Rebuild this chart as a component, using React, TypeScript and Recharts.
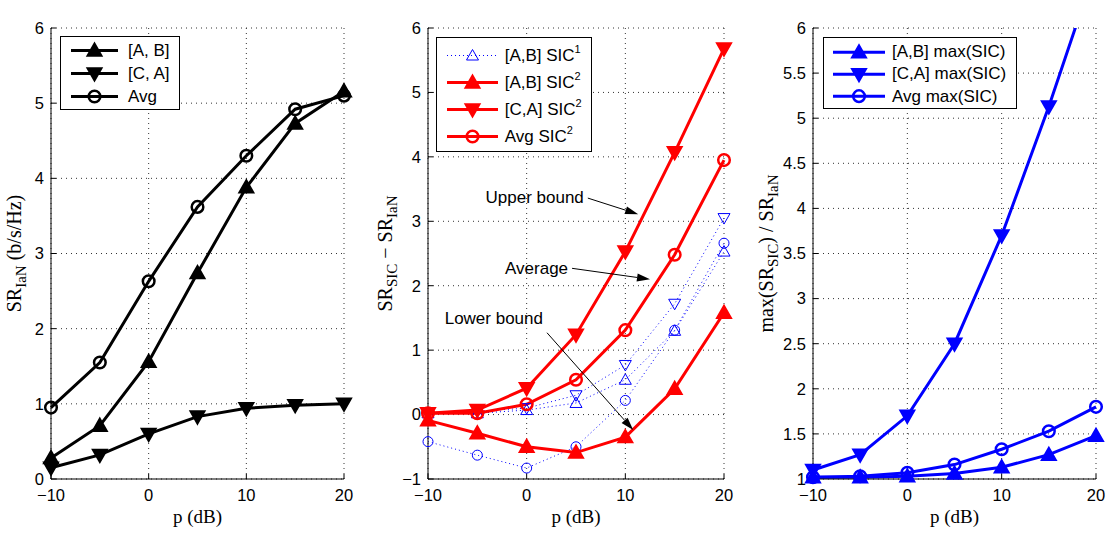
import React from 'react';
import { LineChart, Line, XAxis, YAxis, CartesianGrid, Legend, ReferenceLine, ReferenceDot } from 'recharts';

// transmit power p (dB)
const powerDb = [-10, -5, 0, 5, 10, 15, 20];
const xTicks = [-10, 0, 10, 20];

// SR IaN (b/s/Hz)
const ianAB = [0.28, 0.71, 1.56, 2.74, 3.88, 4.73, 5.16];
const ianCA = [0.15, 0.32, 0.6, 0.83, 0.94, 0.98, 1.0];
const ianAvg = [0.95, 1.55, 2.63, 3.62, 4.3, 4.92, 5.1];
const ianTicks = [0, 1, 2, 3, 4, 5, 6];

// net gains SR_SIC - SR_IaN
const sic1AB = [0.02, 0.02, 0.07, 0.18, 0.54, 1.3, 2.53];
const sic1CA = [0.03, 0.05, 0.1, 0.3, 0.77, 1.72, 3.05];
const sic1Avg = [-0.42, -0.63, -0.83, -0.5, 0.22, 1.31, 2.66];
const sic2AB = [-0.09, -0.29, -0.5, -0.59, -0.35, 0.4, 1.58];
const sic2CA = [0.02, 0.07, 0.41, 1.24, 2.53, 4.07, 5.68];
const sic2Avg = [0.02, 0.02, 0.16, 0.54, 1.31, 2.48, 3.95];
const gainTicks = [-1, 0, 1, 2, 3, 4, 5, 6];

// max(SIC) relative gains
const relAB = [1.02, 1.02, 1.03, 1.06, 1.13, 1.27, 1.48];
const relCA = [1.1, 1.27, 1.7, 2.5, 3.7, 5.13, 6.68];
const relAvg = [1.02, 1.03, 1.07, 1.16, 1.33, 1.53, 1.8];
const relTicks = [1, 1.5, 2, 2.5, 3, 3.5, 4, 4.5, 5, 5.5, 6];

const annotations = [
  { text: 'Upper bound', from: [6.2, 3.36], to: [11.3, 3.11], dy: -1 },
  { text: 'Average', from: [4.6, 2.27], to: [12.5, 2.1], dy: 0 },
  { text: 'Lower bound', from: [2.06, 1.27], to: [10.8, -0.24], dy: -15 },
];

const SANS = '"Liberation Sans", Arial, Helvetica, sans-serif';
const SERIF = '"Liberation Serif", "Times New Roman", serif';
const BLACK = '#000000';
const RED = '#ff0000';
const BLUE = '#0000ff';

type MarkerKind = 'up' | 'down' | 'circle';
interface SeriesStyle {
  key: string;
  color: string;
  width: number;
  dash?: string;
  marker: MarkerKind;
  size: number;
  filled: boolean;
  markerStroke: number;
}

function table(cols: Record<string, number[]>) {
  return powerDb.map((p, i) => {
    const row: Record<string, number> = { p };
    Object.keys(cols).forEach((k) => (row[k] = cols[k][i]));
    return row;
  });
}

const fmt = (v: number) => (v < 0 ? `\u2212${-v}` : `${v}`);
const tickStyle = { fontFamily: SANS, fontSize: 16.5, fill: '#000' };

function Marker({ cx, cy, s }: { cx?: number; cy?: number; s: SeriesStyle }) {
  if (cx == null || cy == null || isNaN(cx) || isNaN(cy)) return null;
  const h = s.size;
  if (s.marker === 'circle') {
    return <circle cx={cx} cy={cy} r={h} fill="none" stroke={s.color} strokeWidth={s.markerStroke} />;
  }
  const tip = s.marker === 'up' ? cy - h : cy + h;
  const base = s.marker === 'up' ? cy + h * 0.75 : cy - h * 0.75;
  return (
    <polygon
      points={`${cx},${tip} ${cx + h},${base} ${cx - h},${base}`}
      fill={s.filled ? s.color : 'none'}
      stroke={s.color}
      strokeWidth={s.markerStroke}
    />
  );
}

type Part = [string, boolean?];
function MathText({ parts, x, y, size, rotate }: { parts: Part[]; x: number; y: number; size: number; rotate?: boolean }) {
  const sub = size * 0.75;
  const shift = size * 0.25;
  let down = false;
  return (
    <text
      x={x}
      y={y}
      textAnchor="middle"
      fontFamily={SERIF}
      fontSize={size}
      fill="#000"
      style={{ whiteSpace: 'pre' }}
      transform={rotate ? `rotate(-90 ${x} ${y})` : undefined}
    >
      {parts.map(([t, isSub], i) => {
        const dy = isSub && !down ? shift : !isSub && down ? -shift : 0;
        down = !!isSub;
        return (
          <tspan key={i} dy={dy} fontSize={isSub ? sub : size}>
            {t}
          </tspan>
        );
      })}
    </text>
  );
}

function Arrow(props: any) {
  const { x1, y1, x2, y2, text, dy } = props;
  const ang = Math.atan2(y2 - y1, x2 - x1);
  const L = 13;
  const W = 4;
  const bx = x2 - L * Math.cos(ang);
  const by = y2 - L * Math.sin(ang);
  const nx = -Math.sin(ang) * W;
  const ny = Math.cos(ang) * W;
  return (
    <g>
      <line x1={x1} y1={y1} x2={bx} y2={by} stroke="#000" strokeWidth={1} />
      <polygon points={`${x2},${y2} ${bx + nx},${by + ny} ${bx - nx},${by - ny}`} fill="#000" />
      <text x={x1 - 4} y={y1 + dy + 6} textAnchor="end" fontFamily={SANS} fontSize={17} fill="#000">
        {text}
      </text>
    </g>
  );
}

interface LegendCfg {
  left: number;
  top: number;
  width: number;
  rowH: number;
  padTop: number;
  padLeft: number;
  sampleW: number;
  gap: number;
  entries: { s: SeriesStyle; label: React.ReactNode }[];
}

function LegendBox({ cfg }: { cfg: LegendCfg }) {
  return (
    <div
      style={{
        width: cfg.width,
        boxSizing: 'border-box',
        border: '1px solid #000',
        background: '#fff',
        paddingTop: cfg.padTop,
        paddingLeft: cfg.padLeft,
        paddingBottom: 1,
        fontFamily: SANS,
        fontSize: 17,
        color: '#000',
      }}
    >
      {cfg.entries.map((e, i) => (
        <div key={i} style={{ display: 'flex', alignItems: 'center', height: cfg.rowH, whiteSpace: 'nowrap' }}>
          <svg width={cfg.sampleW} height={cfg.rowH} style={{ flex: 'none', overflow: 'visible' }}>
            <line
              x1={0}
              x2={cfg.sampleW}
              y1={cfg.rowH / 2}
              y2={cfg.rowH / 2}
              stroke={e.s.color}
              strokeWidth={e.s.width}
              strokeDasharray={e.s.dash}
            />
            <Marker cx={cfg.sampleW / 2} cy={cfg.rowH / 2} s={e.s} />
          </svg>
          <span style={{ marginLeft: cfg.gap, lineHeight: 1 }}>{e.label}</span>
        </div>
      ))}
    </div>
  );
}

const Sup = ({ children }: { children: React.ReactNode }) => (
  <sup style={{ fontSize: 11, verticalAlign: 'baseline', position: 'relative', top: -8 }}>{children}</sup>
);

interface PanelCfg {
  left: number;
  width: number;
  yWidth: number;
  marginRight: number;
  data: Record<string, number>[];
  series: SeriesStyle[];
  yDomain: [number, number];
  yTicks: number[];
  title: Part[];
  yLabel: Part[];
  yLabelX: number;
  legend: LegendCfg;
  clip?: boolean;
  extra?: React.ReactNode;
}

function Panel({ cfg }: { cfg: PanelCfg }) {
  const { data, series, yDomain, yTicks, clip } = cfg;
  return (
    <div style={{ position: 'absolute', left: cfg.left, top: 0 }}>
      <LineChart width={cfg.width} height={536} data={data} margin={{ top: 28, right: cfg.marginRight, bottom: 0, left: 0 }}>
        <CartesianGrid stroke="#333" strokeDasharray="1 4" strokeWidth={1} />
        <XAxis
          dataKey="p"
          type="number"
          domain={[-10, 20]}
          ticks={xTicks}
          interval={0}
          height={57}
          stroke="#000"
          tick={tickStyle}
          tickFormatter={fmt}
          tickSize={-5}
          tickMargin={15}
          label={(p: any) => (
            <MathText parts={[['p (dB)']]} x={p.viewBox.x + p.viewBox.width / 2} y={p.viewBox.y + 44} size={19} />
          )}
        />
        <XAxis
          xAxisId="top"
          orientation="top"
          type="number"
          domain={[-10, 20]}
          ticks={xTicks}
          allowDataOverflow
          height={0}
          stroke="#000"
          tick={false}
          tickSize={-5}
          label={(p: any) => (
            <MathText parts={cfg.title} x={p.viewBox.x + p.viewBox.width / 2} y={p.viewBox.y - 12.5} size={19} />
          )}
        />
        <YAxis
          type="number"
          domain={yDomain}
          ticks={yTicks}
          interval={0}
          allowDataOverflow={!!clip}
          width={cfg.yWidth}
          stroke="#000"
          tick={tickStyle}
          tickFormatter={fmt}
          tickSize={-5}
          tickMargin={12}
          label={(p: any) => (
            <MathText
              parts={cfg.yLabel}
              x={p.viewBox.x + cfg.yLabelX}
              y={p.viewBox.y + p.viewBox.height / 2}
              size={20}
              rotate
            />
          )}
        />
        <YAxis
          yAxisId="right"
          orientation="right"
          type="number"
          domain={yDomain}
          ticks={yTicks}
          allowDataOverflow
          width={0}
          stroke="#000"
          tick={false}
          tickSize={-5}
        />
        {series.map((s) => (
          <Line
            key={s.key}
            type="linear"
            dataKey={s.key}
            stroke={s.color}
            strokeWidth={s.width}
            strokeDasharray={s.dash}
            isAnimationActive={false}
            activeDot={false}
            legendType="none"
            dot={clip ? false : (p: any) => <Marker key={`${s.key}-${p.index}`} cx={p.cx} cy={p.cy} s={s} />}
          />
        ))}
        {clip &&
          series.flatMap((s) =>
            data.map((row, i) => (
              <ReferenceDot
                key={`${s.key}-dot-${i}`}
                x={row.p}
                y={row[s.key]}
                ifOverflow="visible"
                shape={(p: any) => <Marker cx={p.cx} cy={p.cy} s={s} />}
              />
            ))
          )}
        {cfg.extra}
        <Legend
          layout="horizontal"
          verticalAlign="middle"
          align="center"
          wrapperStyle={{ left: cfg.legend.left, top: cfg.legend.top, width: 'auto', height: 'auto' }}
          content={() => <LegendBox cfg={cfg.legend} />}
        />
      </LineChart>
    </div>
  );
}

const thick = (key: string, color: string, marker: MarkerKind): SeriesStyle => ({
  key,
  color,
  width: 3,
  marker,
  size: marker === 'circle' ? 5.8 : 7,
  filled: marker !== 'circle',
  markerStroke: marker === 'circle' ? 2.5 : 2,
});
const dotted = (key: string, marker: MarkerKind): SeriesStyle => ({
  key,
  color: BLUE,
  width: 1,
  dash: '1 3',
  marker,
  size: marker === 'circle' ? 5 : 6,
  filled: false,
  markerStroke: 1,
});

const ianSeries = [thick('ab', BLACK, 'up'), thick('ca', BLACK, 'down'), thick('avg', BLACK, 'circle')];
const gainSeries = [
  dotted('ab1', 'up'),
  dotted('ca1', 'down'),
  dotted('avg1', 'circle'),
  thick('ab2', RED, 'up'),
  thick('ca2', RED, 'down'),
  thick('avg2', RED, 'circle'),
];
const relSeries = [thick('ab', BLUE, 'up'), thick('ca', BLUE, 'down'), thick('avg', BLUE, 'circle')];

const panels: PanelCfg[] = [
  {
    left: 0,
    width: 370,
    yWidth: 51,
    marginRight: 26,
    data: table({ ab: ianAB, ca: ianCA, avg: ianAvg }),
    series: ianSeries,
    yDomain: [0, 6],
    yTicks: ianTicks,
    title: [['SR'], ['IaN', true]],
    yLabel: [['SR'], ['IaN', true], [' (b/s/Hz)']],
    yLabelX: 21,
    legend: {
      left: 60,
      top: 36,
      width: 120,
      rowH: 23,
      padTop: 2,
      padLeft: 10,
      sampleW: 47,
      gap: 10,
      entries: [
        { s: ianSeries[0], label: '[A, B]' },
        { s: ianSeries[1], label: '[C, A]' },
        { s: ianSeries[2], label: 'Avg' },
      ],
    },
  },
  {
    left: 370,
    width: 370,
    yWidth: 58,
    marginRight: 16,
    data: table({ ab1: sic1AB, ca1: sic1CA, avg1: sic1Avg, ab2: sic2AB, ca2: sic2CA, avg2: sic2Avg }),
    series: gainSeries,
    yDomain: [-1, 6],
    yTicks: gainTicks,
    title: [['Net gains']],
    yLabel: [['SR'], ['SIC', true], [' \u2212 SR'], ['IaN', true]],
    yLabelX: 21.5,
    legend: {
      left: 66,
      top: 37,
      width: 156,
      rowH: 27,
      padTop: 4,
      padLeft: 9.7,
      sampleW: 51,
      gap: 7,
      entries: [
        { s: gainSeries[0], label: <>[A,B] SIC<Sup>1</Sup></> },
        { s: gainSeries[3], label: <>[A,B] SIC<Sup>2</Sup></> },
        { s: gainSeries[4], label: <>[C,A] SIC<Sup>2</Sup></> },
        { s: gainSeries[5], label: <>Avg SIC<Sup>2</Sup></> },
      ],
    },
    extra: annotations.map((a) => (
      <ReferenceLine
        key={a.text}
        segment={[
          { x: a.from[0], y: a.from[1] },
          { x: a.to[0], y: a.to[1] },
        ]}
        ifOverflow="visible"
        shape={(p: any) => <Arrow {...p} text={a.text} dy={a.dy} />}
      />
    )),
  },
  {
    left: 740,
    width: 371,
    yWidth: 73,
    marginRight: 15,
    data: table({ ab: relAB, ca: relCA, avg: relAvg }),
    series: relSeries,
    yDomain: [1, 6],
    yTicks: relTicks,
    title: [['max(SIC) Relative gains']],
    yLabel: [['max(SR'], ['SIC', true], [') / SR'], ['IaN', true]],
    yLabelX: 33,
    clip: true,
    legend: {
      left: 83,
      top: 37,
      width: 194,
      rowH: 22.3,
      padTop: 2.5,
      padLeft: 9.3,
      sampleW: 52,
      gap: 6.7,
      entries: [
        { s: relSeries[0], label: '[A,B] max(SIC)' },
        { s: relSeries[1], label: '[C,A] max(SIC)' },
        { s: relSeries[2], label: 'Avg max(SIC)' },
      ],
    },
  },
];

export default function App() {
  return (
    <div style={{ position: 'absolute', left: 0, top: 0, width: 1111, height: 536, background: '#fff', overflow: 'hidden' }}>
      {panels.map((cfg, i) => (
        <Panel key={i} cfg={cfg} />
      ))}
    </div>
  );
}
